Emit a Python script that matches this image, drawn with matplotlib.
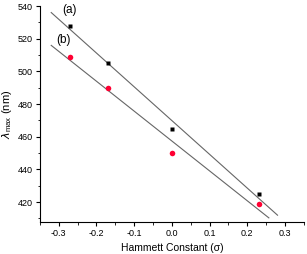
import numpy as np
import matplotlib
matplotlib.use("Agg")
import matplotlib.pyplot as plt
from matplotlib.ticker import MultipleLocator

plt.rcParams['font.family'] = ['Liberation Sans', 'DejaVu Sans']

sigma = [-0.27, -0.17, 0.0, 0.23]
lam_a = [528, 505, 465, 425]
lam_b = [509, 490, 450, 419]
fit_range_a = [-0.32, 0.28]
fit_range_b = [-0.32, 0.257]

fig = plt.figure(figsize=(3.07, 2.54), dpi=100)
ax = fig.add_axes([0.130, 0.127, 0.860, 0.849])

for xs, ys, rng in [(sigma, lam_a, fit_range_a), (sigma, lam_b, fit_range_b)]:
    k, b = np.polyfit(xs, ys, 1)
    xr = np.array(rng)
    ax.plot(xr, k * xr + b, color='#666666', lw=0.8, zorder=1)

ax.plot(sigma, lam_a, 's', color='black', ms=3.2, mec='none', zorder=3)
ax.plot(sigma, lam_b, 'o', color='#ff0033', ms=4, mec='none', zorder=3)

ax.text(-0.272, 537.5, '(a)', fontsize=8.5, ha='center', va='center')
ax.text(-0.288, 519.5, '(b)', fontsize=8.5, ha='center', va='center')

ax.set_xlim(-0.35, 0.35)
ax.set_ylim(408, 540)
ax.xaxis.set_minor_locator(MultipleLocator(0.05))
ax.yaxis.set_minor_locator(MultipleLocator(10))
ax.set_xticks([-0.3, -0.2, -0.1, 0.0, 0.1, 0.2, 0.3])
ax.set_xticklabels(['-0.3', '-0.2', '-0.1', '0.0', '0.1', '0.2', '0.3'])
ax.set_yticks([420, 440, 460, 480, 500, 520, 540])

for s in ['top', 'right']:
    ax.spines[s].set_visible(False)
for s in ['left', 'bottom']:
    ax.spines[s].set_linewidth(0.8)
ax.tick_params(which='major', direction='out', length=3, width=0.8, labelsize=6.5, pad=2)
ax.tick_params(which='minor', direction='out', length=1.8, width=0.6)

ax.set_xlabel('Hammett Constant (σ)', fontsize=7.5, labelpad=4)
ax.set_ylabel(r'$\lambda_{\mathregular{max}}$ (nm)', fontsize=8, labelpad=3)

fig.savefig('out.png', dpi=100)
